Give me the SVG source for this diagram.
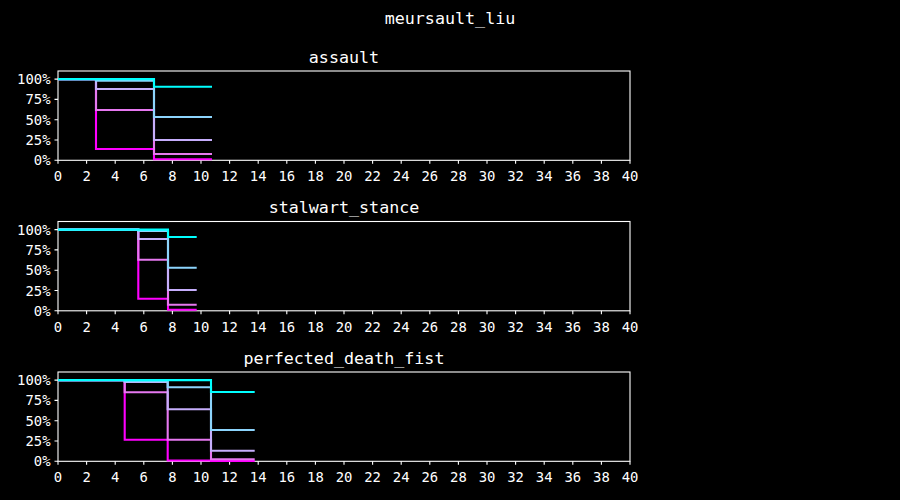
<svg xmlns="http://www.w3.org/2000/svg" xmlns:xlink="http://www.w3.org/1999/xlink" width="900" height="500" viewBox="0 0 900 500">
<style>
text{font-family:"DejaVu Sans Mono","Liberation Mono",monospace;fill:#ffffff}
.tk{font-size:13.9px}
.xl{text-anchor:middle}
.yl{text-anchor:end}
.ttl{font-size:16.7px;text-anchor:middle}
.frame{fill:none;stroke:#ffffff;stroke-width:1.1}
.tick{stroke:#ffffff;stroke-width:1.1}
.s{fill:none;stroke-width:2.1;stroke-linejoin:miter;stroke-linecap:butt}
.c0{stroke:#00ffff}
.c1{stroke:#8cd4fc}
.c2{stroke:#c6aefc}
.c3{stroke:#e678f0}
.c4{stroke:#ff00ff}
</style>
<defs>
<g id="axes">
<rect class="frame" x="58" y="0" width="572" height="89.3"/>
<path class="tick" d="M58,89.3v3.5M86.6,89.3v3.5M115.2,89.3v3.5M143.8,89.3v3.5M172.4,89.3v3.5M201,89.3v3.5M229.6,89.3v3.5M258.2,89.3v3.5M286.8,89.3v3.5M315.4,89.3v3.5M344,89.3v3.5M372.6,89.3v3.5M401.2,89.3v3.5M429.8,89.3v3.5M458.4,89.3v3.5M487,89.3v3.5M515.6,89.3v3.5M544.2,89.3v3.5M572.8,89.3v3.5M601.4,89.3v3.5M630,89.3v3.5M58,8.1h-3.5M58,28.4h-3.5M58,48.7h-3.5M58,69h-3.5M58,89.3h-3.5"/>
<g class="tk xl">
<text x="58" y="110.3">0</text><text x="86.6" y="110.3">2</text><text x="115.2" y="110.3">4</text><text x="143.8" y="110.3">6</text><text x="172.4" y="110.3">8</text><text x="201" y="110.3">10</text><text x="229.6" y="110.3">12</text><text x="258.2" y="110.3">14</text><text x="286.8" y="110.3">16</text><text x="315.4" y="110.3">18</text><text x="344" y="110.3">20</text><text x="372.6" y="110.3">22</text><text x="401.2" y="110.3">24</text><text x="429.8" y="110.3">26</text><text x="458.4" y="110.3">28</text><text x="487" y="110.3">30</text><text x="515.6" y="110.3">32</text><text x="544.2" y="110.3">34</text><text x="572.8" y="110.3">36</text><text x="601.4" y="110.3">38</text><text x="630" y="110.3">40</text>
</g>
<g class="tk yl">
<text x="50.5" y="13.1">100%</text><text x="50.5" y="33.4">75%</text><text x="50.5" y="53.7">50%</text><text x="50.5" y="74">25%</text><text x="50.5" y="94.3">0%</text>
</g>
</g>
</defs>
<rect width="900" height="500" fill="#000000"/>
<text id="suptitle" class="ttl" x="450" y="24">meursault_liu</text>

<g id="plot-assault" transform="translate(0,71)">
<use xlink:href="#axes" href="#axes"/>
<text class="ttl" x="344" y="-8.5">assault</text>
<path class="s c4" d="M58,8.1H96V78H154V88.3H212"/>
<path class="s c3" d="M58,8.1H96V39H154V83H212"/>
<path class="s c2" d="M58,8.1H96V18H154V69H212"/>
<path class="s c1" d="M58,8.1H96V9.6H154V46H212"/>
<path class="s c0" d="M58,8.1H154V15.8H212"/>
</g>

<g id="plot-stalwart_stance" transform="translate(0,221.5)">
<use xlink:href="#axes" href="#axes"/>
<text class="ttl" x="344" y="-8.5">stalwart_stance</text>
<path class="s c4" d="M58,8.1H138.3V77.2H168V88.2H196.7"/>
<path class="s c3" d="M58,8.1H138.3V38.2H168V83.2H196.7"/>
<path class="s c2" d="M58,8.1H138.3V17.5H168V68.5H196.7"/>
<path class="s c1" d="M58,8.1H138.3V9.4H168V46.2H196.7"/>
<path class="s c0" d="M58,8.1H168V15.5H196.7"/>
</g>

<g id="plot-perfected_death_fist" transform="translate(0,372)">
<use xlink:href="#axes" href="#axes"/>
<text class="ttl" x="344" y="-8.5">perfected_death_fist</text>
<path class="s c4" d="M58,8.1H124.7V67.7H167.7V88.5H211V88.9H254.7"/>
<path class="s c3" d="M58,8.1H124.7V20.2H167.7V67.7H211V87.3H254.7"/>
<path class="s c2" d="M58,8.1H124.7V9.9H167.7V37.3H211V78.7H254.7"/>
<path class="s c1" d="M58,8.1H124.7V9.1H167.7V15.3H211V58H254.7"/>
<path class="s c0" d="M58,8.1H211V20H254.7"/>
</g>
</svg>
